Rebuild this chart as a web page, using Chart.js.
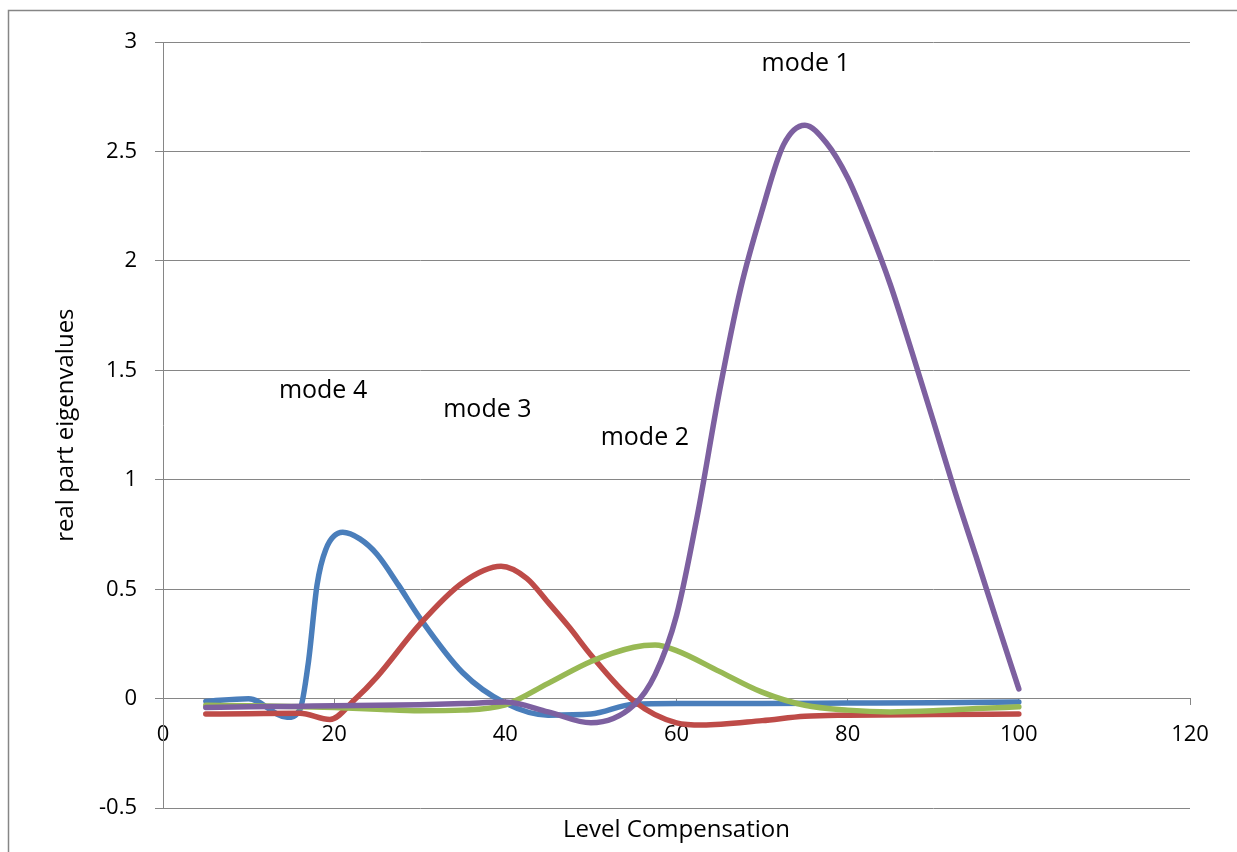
<!DOCTYPE html>
<html>
<head>
<meta charset="utf-8">
<title>real part eigenvalues vs level compensation</title>
<script src="https://cdn.jsdelivr.net/npm/chart.js@4/dist/chart.umd.min.js"></script>
<style>
  html, body { margin: 0; padding: 0; background: #fff; }
  canvas { display: block; }
</style>
</head>
<body>
<canvas id="chart" width="1237" height="852"></canvas>
<script>
// --- values ---
const mode4X = [5, 10, 14.5, 16, 17, 18, 19, 21, 23, 25, 27.5, 30, 35, 40, 45, 50, 55, 60, 70, 80, 90, 100];
const mode4Y = [-0.012, 0.0, -0.085, -0.05, 0.17, 0.52, 0.68, 0.76, 0.73, 0.66, 0.52, 0.37, 0.12, -0.02, -0.075, -0.07, -0.025, -0.022, -0.022, -0.02, -0.018, -0.015];

const mode3X = [5, 10, 16, 19.5, 22.5, 25, 30, 35, 39.5, 42.5, 45, 47.5, 50, 55, 60, 63, 70, 75, 80, 90, 100];
const mode3Y = [-0.07, -0.068, -0.066, -0.095, 0.0, 0.1, 0.34, 0.53, 0.605, 0.55, 0.44, 0.325, 0.2, -0.01, -0.11, -0.12, -0.1, -0.08, -0.075, -0.072, -0.07];

const mode2X = [5, 10, 15, 20, 25, 30, 35, 40, 45, 50, 55, 57.5, 60, 65, 70, 75, 80, 85, 90, 95, 100];
const mode2Y = [-0.03, -0.032, -0.035, -0.04, -0.048, -0.055, -0.052, -0.028, 0.07, 0.17, 0.235, 0.245, 0.22, 0.125, 0.03, -0.03, -0.052, -0.06, -0.055, -0.045, -0.037];

const mode1X = [5, 10, 15, 20, 25, 30, 35, 40, 45, 50, 55, 57.5, 60, 62.5, 65, 67.5, 70, 72.5, 75, 77.5, 80, 82.5, 85, 87.5, 90, 92.5, 95, 97.5, 100];
const mode1Y = [-0.04, -0.037, -0.035, -0.032, -0.03, -0.027, -0.022, -0.015, -0.06, -0.11, -0.03, 0.11, 0.38, 0.85, 1.40, 1.875, 2.23, 2.53, 2.62, 2.54, 2.38, 2.15, 1.89, 1.585, 1.27, 0.95, 0.65, 0.345, 0.045];

const modeNames = ['mode 1', 'mode 2', 'mode 3', 'mode 4'];
const modeLabelX = [75.1, 56.3, 37.9, 18.7];
const modeLabelY = [2.90, 1.19, 1.32, 1.405];

const xTicks = [0, 20, 40, 60, 80, 100, 120];
const yTicks = [-0.5, 0, 0.5, 1, 1.5, 2, 2.5, 3];

const axisGrey = '#868686';
const fontFamily = "'Open Sans', 'Liberation Sans', sans-serif";

const toPoints = (xs, ys) => xs.map((x, i) => ({ x: x, y: ys[i] }));

// white page + the thin frame at top/left
const framePlugin = {
    id: 'frame',
    beforeDraw(chart) {
        const ctx = chart.ctx;
        ctx.save();
        ctx.fillStyle = '#fff';
        ctx.fillRect(0, 0, chart.width, chart.height);
        ctx.strokeStyle = axisGrey;
        ctx.lineWidth = 1.5;
        ctx.beginPath();
        ctx.moveTo(8.5, chart.height);
        ctx.lineTo(8.5, 10.5);
        ctx.lineTo(chart.width, 10.5);
        ctx.stroke();
        ctx.restore();
    }
};

// "mode n" text boxes placed in data coordinates
const modeLabelPlugin = {
    id: 'modeLabels',
    afterDatasetsDraw(chart) {
        const { ctx, scales: { x, y } } = chart;
        ctx.save();
        ctx.fillStyle = '#000';
        ctx.font = '25px ' + fontFamily;
        ctx.textAlign = 'center';
        ctx.textBaseline = 'middle';
        modeNames.forEach((name, i) => {
            ctx.fillText(name, x.getPixelForValue(modeLabelX[i]), y.getPixelForValue(modeLabelY[i]));
        });
        ctx.restore();
    }
};

const lineSet = (label, xs, ys, color, order) => ({
    label: label,
    data: toPoints(xs, ys),
    showLine: true,
    borderColor: color,
    backgroundColor: color,
    borderWidth: 5.5,
    pointRadius: 0,
    pointHoverRadius: 0,
    cubicInterpolationMode: 'monotone',
    borderCapStyle: 'round',
    borderJoinStyle: 'round',
    order: order
});

Chart.defaults.color = '#000';
Chart.defaults.font.family = fontFamily;

new Chart(document.getElementById('chart'), {
    type: 'scatter',
    data: {
        datasets: [
            lineSet('mode 4', mode4X, mode4Y, '#4A7EBB', 4),
            lineSet('mode 3', mode3X, mode3Y, '#BE4B48', 3),
            lineSet('mode 2', mode2X, mode2Y, '#98B954', 2),
            lineSet('mode 1', mode1X, mode1Y, '#7D60A0', 1)
        ]
    },
    options: {
        responsive: false,
        animation: false,
        devicePixelRatio: 1,
        layout: { padding: { left: 8, right: 47, top: 42, bottom: 7 } },
        plugins: {
            legend: { display: false },
            tooltip: { enabled: false },
            title: {
                display: true,
                position: 'bottom',
                fullSize: false,
                text: 'Level Compensation',
                color: '#000',
                font: { size: 24, weight: 'normal', family: fontFamily },
                padding: { top: 8, bottom: 0 }
            }
        },
        scales: {
            x: {
                type: 'linear',
                position: { y: 0 },
                min: 0,
                max: 120,
                afterBuildTicks: s => { s.ticks = xTicks.map(v => ({ value: v })); },
                afterFit: s => { s.height = 0; },
                ticks: { font: { size: 22 }, padding: 17, maxRotation: 0, autoSkip: false },
                grid: { drawOnChartArea: false, drawTicks: true, tickLength: 6, color: axisGrey },
                border: { display: true, color: axisGrey, width: 1 }
            },
            y: {
                type: 'linear',
                position: 'left',
                min: -0.5,
                max: 3,
                afterBuildTicks: s => { s.ticks = yTicks.map(v => ({ value: v })); },
                afterFit: s => { s.width = 155; },
                ticks: { font: { size: 22 }, padding: 18, callback: v => String(v) },
                grid: { color: axisGrey, tickLength: 8, lineWidth: 1 },
                border: { display: true, color: axisGrey, width: 1 },
                title: {
                    display: true,
                    text: 'real part eigenvalues',
                    font: { size: 24 },
                    padding: { top: 44, bottom: 0 }
                }
            }
        }
    },
    plugins: [framePlugin, modeLabelPlugin]
});
</script>
</body>
</html>
